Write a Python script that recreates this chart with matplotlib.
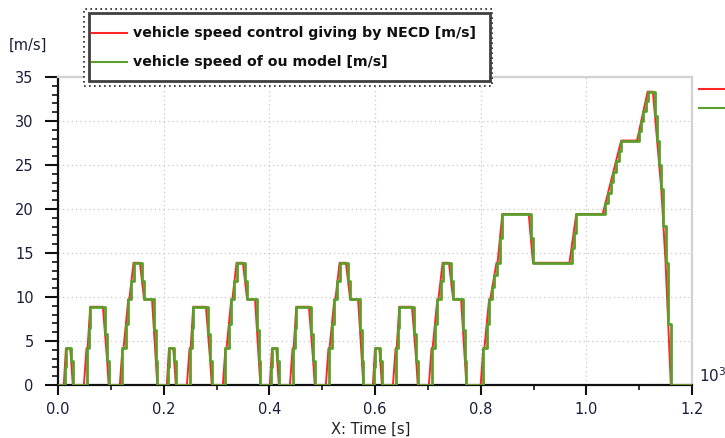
"""
NEDC speed trace: reference control speed vs. model speed (Dymola-style plot)
"""

import matplotlib
matplotlib.use('Agg')
import matplotlib.pyplot as plt
from matplotlib.lines import Line2D
from matplotlib.patches import Rectangle
from matplotlib.ticker import MultipleLocator, FuncFormatter

# ── Data (time [s], speed [m/s]) ─────────────────────────────────────────────
# one urban (ECE) cycle, speeds repeated for all four cycles
ece_speed = [0, 0, 2.08, 4.17, 4.17, 2.78, 0, 0, 4.17, 4.17, 6.53, 8.89,
             8.89, 5.83, 2.78, 0, 0, 4.17, 4.17, 6.94, 9.72, 9.72, 11.81,
             13.89, 13.89, 11.81, 9.72, 9.72, 9.72, 6.25, 2.78, 0]

ece1_time = [0, 11, 13, 15, 23, 25, 28, 49, 54, 56, 58.5, 61, 85, 89, 93, 96,
             117, 122, 124, 128.5, 133, 135, 139, 143, 155, 159, 163, 176,
             178, 181.5, 185, 188]
ece2_time = [195, 206, 208, 210, 218, 220, 223, 244, 249, 251, 253.5, 256,
             280, 284, 288, 291, 312, 317, 319, 323.5, 328, 330, 334, 338,
             350, 354, 358, 371, 373, 376.5, 380, 383]
ece3_time = [390, 401, 403, 405, 413, 415, 418, 439, 444, 446, 448.5, 451,
             475, 479, 483, 486, 507, 512, 514, 518.5, 523, 525, 529, 533,
             545, 549, 553, 566, 568, 571.5, 575, 578]
ece4_time = [585, 596, 598, 600, 608, 610, 613, 634, 639, 641, 643.5, 646,
             670, 674, 678, 681, 702, 707, 709, 713.5, 718, 720, 724, 728,
             740, 744, 748, 761, 763, 766.5, 770, 773]

# extra-urban (EUDC) part
eudc_time = [780, 800, 805, 807, 811.5, 816, 818, 822, 826, 830, 832, 836.5,
             841, 891, 895, 899, 968, 972, 976, 981, 1031, 1036, 1041, 1046,
             1051, 1056, 1061, 1066, 1096, 1100, 1104, 1108, 1112, 1116,
             1126, 1130, 1134, 1138, 1142, 1146, 1150, 1155, 1160, 1180, 1200]
eudc_speed = [0, 0, 4.17, 4.17, 6.94, 9.72, 9.72, 11.11, 12.5, 13.89, 13.89,
              16.67, 19.44, 19.44, 16.67, 13.89, 13.89, 15.60, 17.31, 19.44,
              19.44, 20.63, 21.83, 23.02, 24.21, 25.40, 26.59, 27.78, 27.78,
              28.89, 30.00, 31.11, 32.22, 33.33, 33.33, 30.56, 27.78, 25.00,
              22.22, 18.06, 13.89, 6.94, 0, 0, 0]

time = ece1_time + ece2_time + ece3_time + ece4_time + eudc_time
speed = ece_speed * 4 + eudc_speed

labels = ['vehicle speed control giving by NECD [m/s]',
          'vehicle speed of ou model [m/s]']

RED = '#ff2626'
GREEN = '#5c9e2c'
TXT = '#1c1c3c'

# ── Figure ───────────────────────────────────────────────────────────────────
W, H = 725, 438
fig = plt.figure(figsize=(W / 100, H / 100), dpi=100)
ax = fig.add_axes([58 / W, 1 - 385 / H, 634 / W, 308 / H])

ax.plot(time, speed, color=RED, lw=1.4, zorder=3)
ax.plot(time, speed, color=GREEN, lw=2.0, drawstyle='steps-post', zorder=4)

ax.set_xlim(0, 1200)
ax.set_ylim(0, 35)
ax.xaxis.set_major_locator(MultipleLocator(200))
ax.xaxis.set_minor_locator(MultipleLocator(100))
ax.xaxis.set_major_formatter(FuncFormatter(lambda v, p: f'{v / 1000:.1f}'))
ax.yaxis.set_major_locator(MultipleLocator(5))
ax.yaxis.set_minor_locator(MultipleLocator(1))

ax.grid(True, which='major', color='#c8c8c8', lw=0.9, ls=(0, (1, 2.5)))
ax.set_axisbelow(True)

for s in ('left', 'bottom'):
    ax.spines[s].set_color('#101010')
    ax.spines[s].set_linewidth(1.6)
for s in ('top', 'right'):
    ax.spines[s].set_color('#d2d2d2')
    ax.spines[s].set_linewidth(1.6)

ax.tick_params(axis='y', which='major', length=9.5, width=1.5, pad=8,
               labelsize=10.5, labelcolor=TXT, color='#101010')
ax.tick_params(axis='y', which='minor', length=4, width=1.2, color='#101010')
ax.tick_params(axis='x', which='major', length=7.5, width=1.5, pad=5,
               labelsize=10.5, labelcolor=TXT, color='#101010')
ax.tick_params(axis='x', which='minor', length=3.5, width=1.2, color='#101010')

fig.text(28 / W, 1 - 45 / H, '[m/s]', fontsize=10.5, color=TXT,
         ha='center', va='center')
fig.text(371 / W, 1 - 429 / H, 'X: Time [s]', fontsize=10.5, color='#202020',
         ha='center', va='center')
fig.text(699 / W, 1 - 382 / H, r'10$^{3}$', fontsize=11, color=TXT,
         ha='left', va='baseline')

# ── Legend: dotted outer frame, solid inner frame ────────────────────────────
def fx(px):
    return px / W


def fy(py):
    return 1 - py / H


fig.patches.append(Rectangle((fx(84), fy(86)), 408 / W, 77 / H,
                             transform=fig.transFigure, facecolor='white',
                             edgecolor='#202020', lw=1.2, ls=(0, (1, 2)),
                             zorder=2))
fig.patches.append(Rectangle((fx(89), fy(81)), 401 / W, 68 / H,
                             transform=fig.transFigure, facecolor='white',
                             edgecolor='#404040', lw=2, zorder=3))
for row_y, col, lab in zip([33, 62], [RED, GREEN], labels):
    fig.lines.append(Line2D([fx(92), fx(127)], [fy(row_y), fy(row_y)],
                            transform=fig.transFigure, color=col, lw=1.5,
                            zorder=4))
    fig.text(fx(133), fy(row_y), lab, fontsize=10.2, fontweight='bold',
             color='#101010', ha='left', va='center', zorder=4)

# cropped second legend at the right edge
fig.lines.append(Line2D([fx(699), 1.0], [fy(89), fy(89)],
                        transform=fig.transFigure, color=RED, lw=1.5))
fig.lines.append(Line2D([fx(699), 1.0], [fy(108), fy(108)],
                        transform=fig.transFigure, color=GREEN, lw=1.5))

fig.savefig('out.png', dpi=100, facecolor='white')
plt.close(fig)
